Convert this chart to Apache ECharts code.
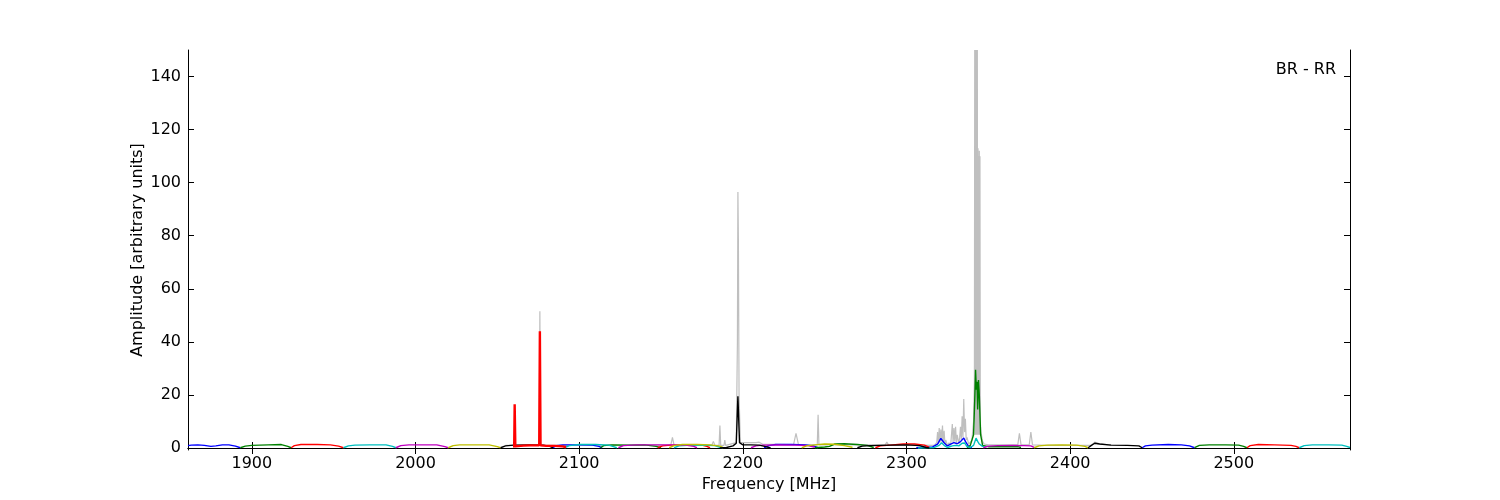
<!DOCTYPE html>
<html><head><meta charset="utf-8">
<script src="https://cdn.jsdelivr.net/npm/echarts@6/dist/echarts.min.js"></script>
<style>html,body{margin:0;padding:0;background:#fff}#c{width:1500px;height:500px}</style>
</head><body><div id="c"></div>
<script>
const xTicks = [1900, 2000, 2100, 2200, 2300, 2400, 2500];
const yTicks = [0, 20, 40, 60, 80, 100, 120, 140];
const xLabel = 'Frequency [MHz]';
const yLabel = 'Amplitude [arbitrary units]';
const panelLabel = 'BR - RR';

// grey: full-resolution spectrum with RFI spikes (freq MHz, amplitude)
const greyData = [[2055,1.0],[2075.6,1.0],[2076,51.5],[2076.4,1.0],[2120,1.1],[2156,1.1],[2157,4.0],[2158,1.1],
 [2181,1.0],[2182,2.5],[2183,1.0],[2185.5,1.0],[2186,8.5],[2186.5,1.0],[2188.5,1.0],[2189,3.0],[2189.5,1.0],
 [2196,2.0],[2196.7,40],[2197,96.5],[2197.3,78],[2197.7,20],[2198.5,2.0],[2208,2.0],[2210,2.2],[2212,1.5],
 [2231,1.3],[2232.5,5.5],[2234,1.3],[2245.5,1.2],[2246,12.5],[2246.5,1.2],[2287,1.2],[2288,2.2],[2289,1.2],
 [2317,1.0],[2318.5,2.0],[2319,6.0],[2319.5,1.5],[2320,7.5],[2320.5,2.0],[2321,7.0],[2321.5,2.5],[2322,8.5],
 [2322.5,2.0],[2323,6.5],[2323.5,1.5],[2324,3.0],[2325,1.0],[2326,2.0],[2327,1.0],[2327.5,5.0],[2328,9.0],
 [2328.5,2.0],[2329,7.5],[2329.5,2.5],[2330,8.0],[2330.5,2.0],[2331,5.0],[2332,1.5],[2332.5,4.0],[2333,8.0],
 [2333.5,3.0],[2334,12.0],[2334.5,4.0],[2335,18.5],[2335.5,6.0],[2336,11.0],[2336.5,3.0],[2337,4.0],[2338,1.5],
 [2339,2.0],[2340,3.0],[2341,10],[2341.5,25],[2341.7,150],[2341.9,5],[2342.1,150],[2342.3,5],[2342.5,150],
 [2342.7,5],[2342.9,150],[2343.1,5],[2343.3,150],[2343.5,5],[2343.7,113],[2343.9,5],[2344.1,110],[2344.3,5],
 [2344.5,112],[2344.7,5],[2344.9,110],[2345.1,10],[2345.5,6],[2346.5,2.5],[2347.5,1.5],[2350,1.2],[2368,1.2],
 [2369,5.5],[2370,1.2],[2375,1.2],[2376,6.0],[2377,1.2],[2385,1.0],[2413,1.0],[2415,2.2],[2418,1.6],[2425,1.1]];

const blueSegs = [
 [[1861,0.9],[1863,1.1],[1867,1.2],[1871,1.0],[1875,0.6],[1878,0.8],[1882,1.2],[1886,1.2],[1890,0.7],[1893,0.1]],
 [[2084,0.1],[2086,0.9],[2090,1.2],[2100,1.2],[2108,1.1],[2112,0.6],[2114,0.1]],
 [[2213,0.1],[2216,0.9],[2220,1.3],[2230,1.3],[2238,1.2],[2243,0.8],[2246,0.1]],
 [[2306,0.1],[2310,0.3],[2316,0.4],[2319,1.5],[2321,3.6],[2323,2.0],[2325,0.8],[2327,1.5],[2329,2.0],[2331,1.6],[2333,2.4],[2335,3.8],[2336,2.5],[2338,0.5],[2340,0.1]],
 [[2444,0.1],[2446,0.8],[2450,1.1],[2460,1.3],[2468,1.2],[2473,0.8],[2476,0.1]]
];
const greenSegs = [
 [[1893,0.1],[1896,0.7],[1900,1.0],[1910,1.2],[1918,1.3],[1922,0.6],[1924,0.1]],
 [[2113,0.1],[2115,0.9],[2120,1.2],[2130,1.1],[2140,1.2],[2147,0.6],[2150,0.1]],
 [[2244,0.1],[2250,0.4],[2253,0.6],[2256,1.5],[2262,1.6],[2270,1.3],[2276,1.0],[2280,0.2]],
 [[2337,0.1],[2339,1.0],[2341,5],[2341.8,20],[2342.2,29.5],[2342.7,22],[2343.1,25],[2343.5,14.5],[2344,25.6],[2344.5,20],[2345.3,5],[2346.5,1.0],[2350,0.5],[2360,0.5],[2368,0.5],[2370,0.2]],
 [[2476,0.1],[2479,1.0],[2485,1.2],[2495,1.2],[2503,1.1],[2506,0.6],[2508,0.1]]
];
const redSegs = [
 [[1924,0.1],[1926,0.9],[1930,1.3],[1940,1.3],[1948,1.2],[1953,0.7],[1956,0.1]],
 [[2148,0.1],[2151,0.8],[2156,1.1],[2165,1.2],[2175,1.1],[2178,0.6],[2180,0.1]],
 [[2281,0.1],[2284,0.8],[2290,1.1],[2298,1.5],[2305,1.5],[2311,1.1],[2314,0.2]],
 [[2508,0.1],[2510,0.9],[2515,1.3],[2525,1.2],[2535,1.0],[2538,0.6],[2540,0.1]]
];
const redNoisy = [[2060.3,0.2],[2060.6,16.5],[2061,0.6],[2062,0.8],[2066,0.9],[2070,1.0],[2075.6,1.0],[2076,44],[2076.4,1.0],[2080,0.8],[2085,0.8],[2090,0.6],[2092,0.3]];
const cyanSegs = [
 [[1956,0.1],[1959,0.8],[1963,1.1],[1972,1.2],[1982,1.2],[1986,0.6],[1988,0.1]],
 [[2091,0.1],[2094,0.9],[2100,1.3],[2110,1.3],[2118,1.1],[2121,0.5],[2123,0.1]],
 [[2158,0.1],[2161,0.8],[2166,1.0],[2175,1.1],[2183,0.9],[2186,0.3],[2188,0.1]],
 [[2307,0.0],[2312,0.1],[2317,0.2],[2320,1.0],[2321.5,2.0],[2323,1.0],[2325,0.2],[2328,0.8],[2330,1.0],[2332,0.8],[2334,1.8],[2335.5,1.9],[2337,0.5],[2339,0.2],[2341,1.0],[2342.5,3.7],[2343.5,2.5],[2344.5,1.5],[2346,0.8],[2348,0.2]],
 [[2540,0.1],[2543,0.9],[2548,1.2],[2558,1.2],[2566,1.1],[2569,0.6],[2571,0.2]]
];
const magentaSegs = [
 [[1988,0.1],[1991,0.9],[1996,1.2],[2005,1.2],[2013,1.2],[2018,0.5],[2020,0.1]],
 [[2124,0.1],[2127,0.9],[2135,1.2],[2145,1.2],[2155,1.2],[2165,1.1],[2170,0.6],[2172,0.1]],
 [[2205,0.1],[2208,0.8],[2212,1.1],[2222,1.2],[2232,1.1],[2240,0.9],[2244,0.3]],
 [[2347,0.1],[2350,0.7],[2356,0.9],[2365,1.0],[2372,0.9],[2376,0.8],[2378,0.2]]
];
const yellowSegs = [
 [[2020,0.1],[2023,0.9],[2027,1.2],[2036,1.2],[2045,1.2],[2050,0.5],[2052,0.1]],
 [[2155,0.1],[2158,0.9],[2163,1.3],[2172,1.3],[2180,1.2],[2186,0.7],[2188,0.1]],
 [[2236,0.1],[2239,0.8],[2244,1.2],[2250,1.5],[2256,1.4],[2262,0.9],[2267,0.3]],
 [[2378,0.1],[2381,0.8],[2386,1.1],[2395,1.2],[2404,1.1],[2409,0.6],[2411,0.1]]
];
const blackSegs = [
 [[2052,0.1],[2055,0.8],[2060,1.1],[2070,1.2],[2078,1.1],[2082,0.6],[2084,0.1]],
 [[2186,0.0],[2190,0.2],[2194,0.8],[2196,1.8],[2197,19.5],[2198,2.0],[2200,1.2],[2205,1.2],[2210,1.1],[2214,0.5],[2217,0.0]],
 [[2270,0.1],[2273,0.7],[2278,0.9],[2290,1.1],[2300,1.2],[2308,0.9],[2312,0.2],[2314,0.0]],
 [[2411,0.1],[2413,1.0],[2415,1.8],[2418,1.5],[2425,1.1],[2435,1.0],[2442,0.8],[2444,0.1]]
];

const FONT = 'DejaVu Sans';
const chart = echarts.init(document.getElementById('c'), null, {renderer: 'canvas'});
const series = [];
function addLine(data, color, width) {
  series.push({type: 'line', data: data, showSymbol: false, symbol: 'none', silent: true,
    lineStyle: {color: color, width: width}, itemStyle: {color: color}, animation: false, z: 2});
}
addLine(greyData, '#bfbfbf', 1.2);
const groups = [[blueSegs,'#0000ff'],[greenSegs,'#008000'],[redSegs,'#ff0000'],[cyanSegs,'#00bfbf'],
  [magentaSegs,'#bf00bf'],[yellowSegs,'#bfbf00'],[blackSegs,'#000000']];
groups.forEach(([segs, col]) => segs.forEach(s => addLine(s, col, 1.4)));
addLine(redNoisy, '#ff0000', 2.4);

const axisLineStyle = {show: true, lineStyle: {color: '#000', width: 1}};
const xTickStyle = {show: true, inside: true, length: 6, customValues: xTicks, lineStyle: {color: '#000', width: 1}};
const yTickStyle = {show: true, inside: true, length: 6, customValues: yTicks, lineStyle: {color: '#000', width: 1}};
const txt = {fontFamily: FONT, fontSize: 16, color: '#000'};
chart.setOption({
  animation: false,
  backgroundColor: '#fff',
  grid: {left: 188, right: 150, top: 50, bottom: 50, containLabel: false},
  xAxis: [
    {type: 'value', min: 1861, max: 2571, splitNumber: 7, position: 'bottom',
     axisLine: axisLineStyle, axisTick: xTickStyle, splitLine: {show: false},
     axisLabel: Object.assign({margin: 6, customValues: xTicks, formatter: v => String(v)}, txt),
     name: xLabel, nameLocation: 'middle', nameGap: 25, nameTextStyle: txt},
    {type: 'value', min: 1861, max: 2571, splitNumber: 7, position: 'top',
     axisLine: axisLineStyle, axisTick: xTickStyle, splitLine: {show: false}, axisLabel: {show: false}}
  ],
  yAxis: [
    {type: 'value', min: -0.75, max: 150, splitNumber: 8, position: 'left',
     axisLine: axisLineStyle, axisTick: yTickStyle, splitLine: {show: false},
     axisLabel: Object.assign({margin: 7, customValues: yTicks, formatter: v => String(v)}, txt),
     name: yLabel, nameLocation: 'middle', nameGap: 42, nameMoveOverlap: false, nameTextStyle: txt},
    {type: 'value', min: -0.75, max: 150, splitNumber: 8, position: 'right',
     axisLine: axisLineStyle, axisTick: yTickStyle, splitLine: {show: false}, axisLabel: {show: false}}
  ],
  graphic: [{type: 'text', right: 164, top: 62,
    style: {text: panelLabel, font: '16px "DejaVu Sans"', fill: '#000'}}],
  series: series
});
</script></body></html>
